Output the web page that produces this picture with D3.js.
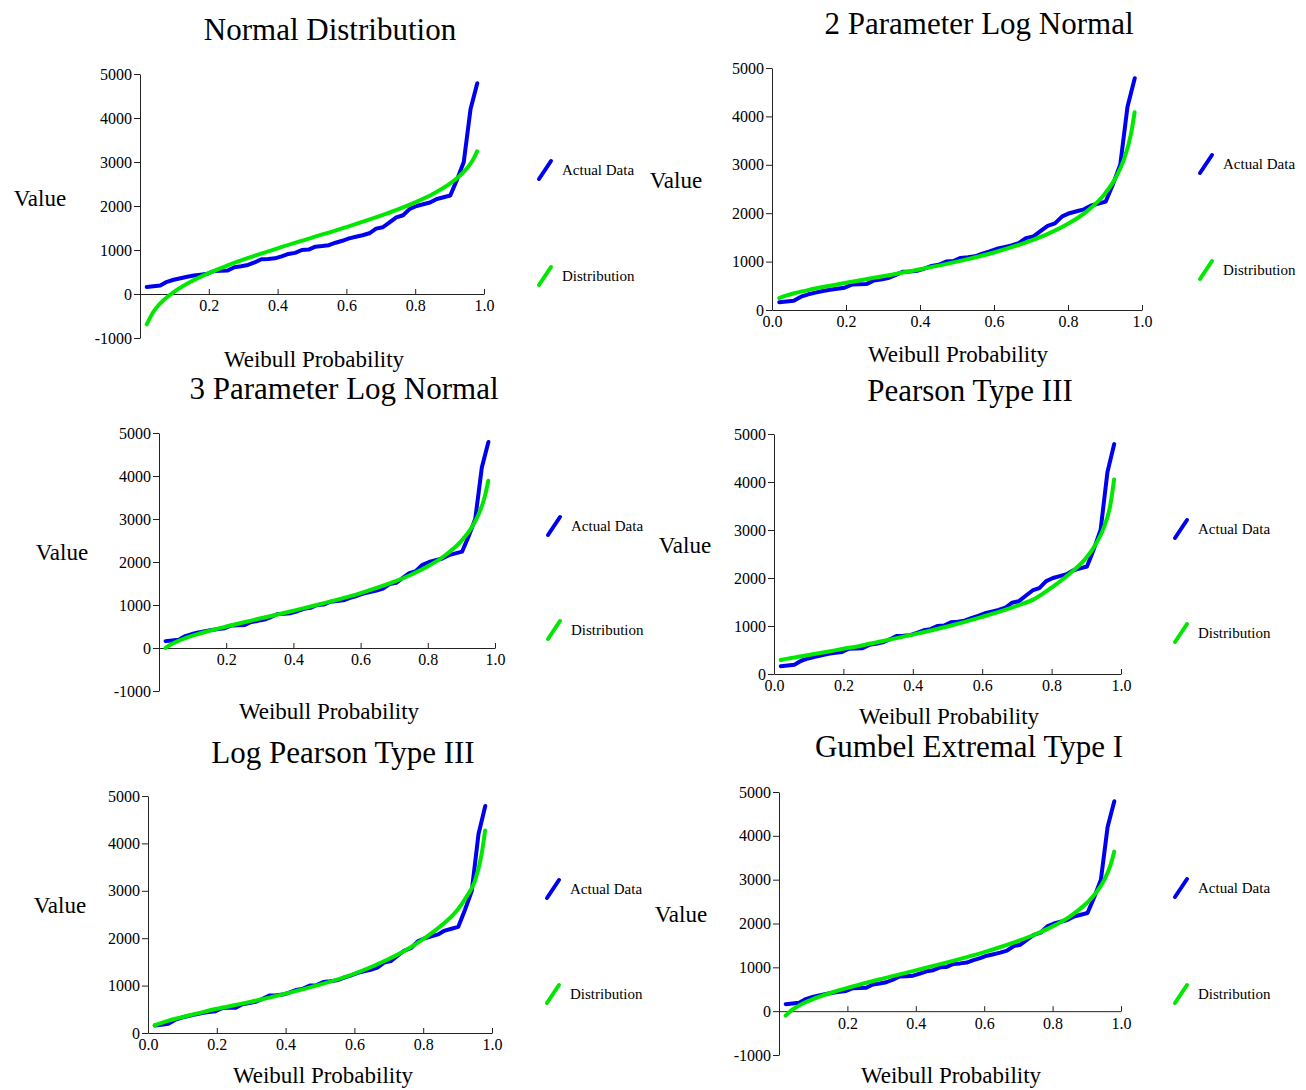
<!DOCTYPE html>
<html>
<head>
<meta charset="utf-8">
<title>Distribution fits</title>
<script src="https://cdn.jsdelivr.net/npm/d3@7"></script>
<style>
  body { margin: 0; background: #fff; }
  svg text { font-family: "Liberation Serif", "Times New Roman", serif; fill: #000; }
</style>
</head>
<body>
<div id="chart"></div>
<script>
// Weibull plotting positions of the 50 sorted observations
const weibullProb = [
  0.0196, 0.0392, 0.0588, 0.0784, 0.0980, 0.1176, 0.1373, 0.1569, 0.1765, 0.1961,
  0.2157, 0.2353, 0.2549, 0.2745, 0.2941, 0.3137, 0.3333, 0.3529, 0.3725, 0.3922,
  0.4118, 0.4314, 0.4510, 0.4706, 0.4902, 0.5098, 0.5294, 0.5490, 0.5686, 0.5882,
  0.6078, 0.6275, 0.6471, 0.6667, 0.6863, 0.7059, 0.7255, 0.7451, 0.7647, 0.7843,
  0.8039, 0.8235, 0.8431, 0.8627, 0.8824, 0.9020, 0.9216, 0.9412, 0.9608, 0.9804
];

const actualData = [
  160, 175, 193, 276, 324, 359, 392, 420, 440, 460,
  525, 531, 535, 607, 630, 660, 720, 790, 797, 810,
  855, 910, 935, 1000, 1010, 1076, 1090, 1110, 1165, 1210,
  1265, 1300, 1335, 1380, 1485, 1517, 1630, 1740, 1790, 1935,
  2000, 2040, 2080, 2160, 2200, 2240, 2600, 3000, 4200, 4790
];

// probabilities at which the fitted curves were read
const distProb = [0.0196, 0.04, 0.06, 0.08, 0.1, 0.15, 0.2, 0.25, 0.3, 0.4, 0.5,
  0.6, 0.7, 0.75, 0.8, 0.85, 0.9, 0.93, 0.95, 0.97, 0.98];

const normalFit = [-689, -392, -205, -62, 56, 291, 476, 636, 780, 1038, 1280,
  1522, 1780, 1924, 2084, 2269, 2504, 2690, 2851, 3076, 3242];
const logNormal2Fit = [244, 301, 345, 382, 416, 492, 562, 630, 698, 841, 1000,
  1189, 1432, 1587, 1780, 2033, 2405, 2748, 3086, 3627, 4084];
const logNormal3Fit = [1, 102, 174, 233, 286, 400, 500, 594, 685, 867, 1060,
  1277, 1542, 1704, 1899, 2146, 2492, 2797, 3087, 3532, 3890];
const pearson3Fit = [290, 320, 345, 370, 395, 460, 525, 590, 665, 820, 990,
  1190, 1420, 1560, 1800, 2080, 2420, 2740, 3040, 3550, 4050];
const logPearson3Fit = [165, 215, 260, 300, 337, 425, 510, 585, 660, 830, 1020,
  1250, 1560, 1750, 1980, 2250, 2600, 2920, 3200, 3780, 4270];
const gumbelFit = [-103, 39, 135, 211, 277, 414, 531, 637, 737, 931, 1129,
  1346, 1601, 1754, 1934, 2159, 2467, 2731, 2978, 3348, 3639];

const panelTitles = ['Normal Distribution', '2 Parameter Log Normal', '3 Parameter Log Normal',
  'Pearson Type III', 'Log Pearson Type III', 'Gumbel Extremal Type I'];
const panelFits = [normalFit, logNormal2Fit, logNormal3Fit, pearson3Fit, logPearson3Fit, gumbelFit];
const panelYMin = [-1000, 0, -1000, 0, 0, -1000];

const yTickValues = [-1000, 0, 1000, 2000, 3000, 4000, 5000];
const xTickValues = [0, 0.2, 0.4, 0.6, 0.8, 1.0];
const legendLabels = ['Actual Data', 'Distribution'];

// page layout of each panel (pixels)
const layout = [
  {x0: 140, x1: 484, yTop: 74, yBot: 338, title: [330, 40], value: [40, 206], weibull: [314, 367], legend: [539, 170, 276]},
  {x0: 772, x1: 1142, yTop: 68, yBot: 310, title: [979, 34], value: [676, 188], weibull: [958, 362], legend: [1200, 164, 270]},
  {x0: 159, x1: 495, yTop: 433, yBot: 691, title: [344, 399], value: [62, 560], weibull: [329, 719], legend: [548, 526, 630]},
  {x0: 774, x1: 1121, yTop: 434, yBot: 674, title: [970, 401], value: [685, 553], weibull: [949, 724], legend: [1175, 529, 633]},
  {x0: 148, x1: 492, yTop: 796, yBot: 1033, title: [343, 763], value: [60, 913], weibull: [323, 1083], legend: [547, 889, 994]},
  {x0: 779, x1: 1121, yTop: 792, yBot: 1055, title: [969, 757], value: [681, 922], weibull: [951, 1083], legend: [1175, 888, 994]}
];

const BLUE = '#0000f0';
const GREEN = '#00e800';
const SERIF = '"Liberation Serif", "Times New Roman", serif';

const svg = d3.select('#chart').append('svg')
  .attr('width', 1306)
  .attr('height', 1090)
  .style('background', '#fff');

/**
 * @param {number} i panel index
 */
function drawPanel(i) {
  const box = layout[i];
  const g = svg.append('g').attr('class', 'panel');

  const x = d3.scaleLinear().domain([0, 1]).range([box.x0, box.x1]);
  const y = d3.scaleLinear().domain([panelYMin[i], 5000]).range([box.yBot, box.yTop]);

  const yAxis = d3.axisLeft(y)
    .tickValues(yTickValues.filter(v => v >= panelYMin[i]))
    .tickFormat(d => String(d))
    .tickSizeInner(6)
    .tickSizeOuter(0)
    .tickPadding(2);
  g.append('g')
    .attr('transform', 'translate(' + box.x0 + ',0)')
    .call(yAxis)
    .attr('color', '#222')
    .attr('font-size', 16)
    .attr('font-family', SERIF);

  // no 0.0 label where the axis crosses the y axis at value 0 in the middle
  const xAxis = d3.axisBottom(x)
    .tickValues(panelYMin[i] < 0 ? xTickValues.slice(1) : xTickValues)
    .tickFormat(d3.format('.1f'))
    .tickSizeInner(-5)
    .tickSizeOuter(0)
    .tickPadding(6);
  g.append('g')
    .attr('transform', 'translate(0,' + y(0) + ')')
    .call(xAxis)
    .attr('color', '#222')
    .attr('font-size', 16)
    .attr('font-family', SERIF);

  g.selectAll('.tick text').style('font-family', SERIF);

  const actualLine = d3.line()
    .x(d => x(d[0]))
    .y(d => y(d[1]));
  const fitLine = d3.line()
    .x(d => x(d[0]))
    .y(d => y(d[1]))
    .curve(d3.curveMonotoneX);

  g.append('path')
    .datum(d3.zip(weibullProb, actualData))
    .attr('d', actualLine)
    .attr('fill', 'none')
    .attr('stroke', BLUE)
    .attr('stroke-width', 4)
    .attr('stroke-linejoin', 'round')
    .attr('stroke-linecap', 'round');

  g.append('path')
    .datum(d3.zip(distProb, panelFits[i]))
    .attr('d', fitLine)
    .attr('fill', 'none')
    .attr('stroke', GREEN)
    .attr('stroke-width', 4)
    .attr('stroke-linejoin', 'round')
    .attr('stroke-linecap', 'round');

  g.append('text')
    .attr('x', box.title[0])
    .attr('y', box.title[1])
    .attr('text-anchor', 'middle')
    .attr('font-size', 31)
    .text(panelTitles[i]);

  g.append('text')
    .attr('x', box.value[0])
    .attr('y', box.value[1])
    .attr('text-anchor', 'middle')
    .attr('font-size', 23)
    .text('Value');

  g.append('text')
    .attr('x', box.weibull[0])
    .attr('y', box.weibull[1])
    .attr('text-anchor', 'middle')
    .attr('font-size', 23)
    .text('Weibull Probability');

  // legend: a short slanted stroke and its label
  const colors = [BLUE, GREEN];
  legendLabels.forEach(function(label, k) {
    const lx = box.legend[0];
    const ly = box.legend[k + 1];
    g.append('line')
      .attr('x1', lx)
      .attr('y1', ly + 9)
      .attr('x2', lx + 12)
      .attr('y2', ly - 9)
      .attr('stroke', colors[k])
      .attr('stroke-width', 4)
      .attr('stroke-linecap', 'round');
    g.append('text')
      .attr('x', lx + 23)
      .attr('y', ly + 5)
      .attr('font-size', 15)
      .text(label);
  });
}

for (let i = 0; i < panelTitles.length; i++) {
  drawPanel(i);
}
</script>
</body>
</html>
